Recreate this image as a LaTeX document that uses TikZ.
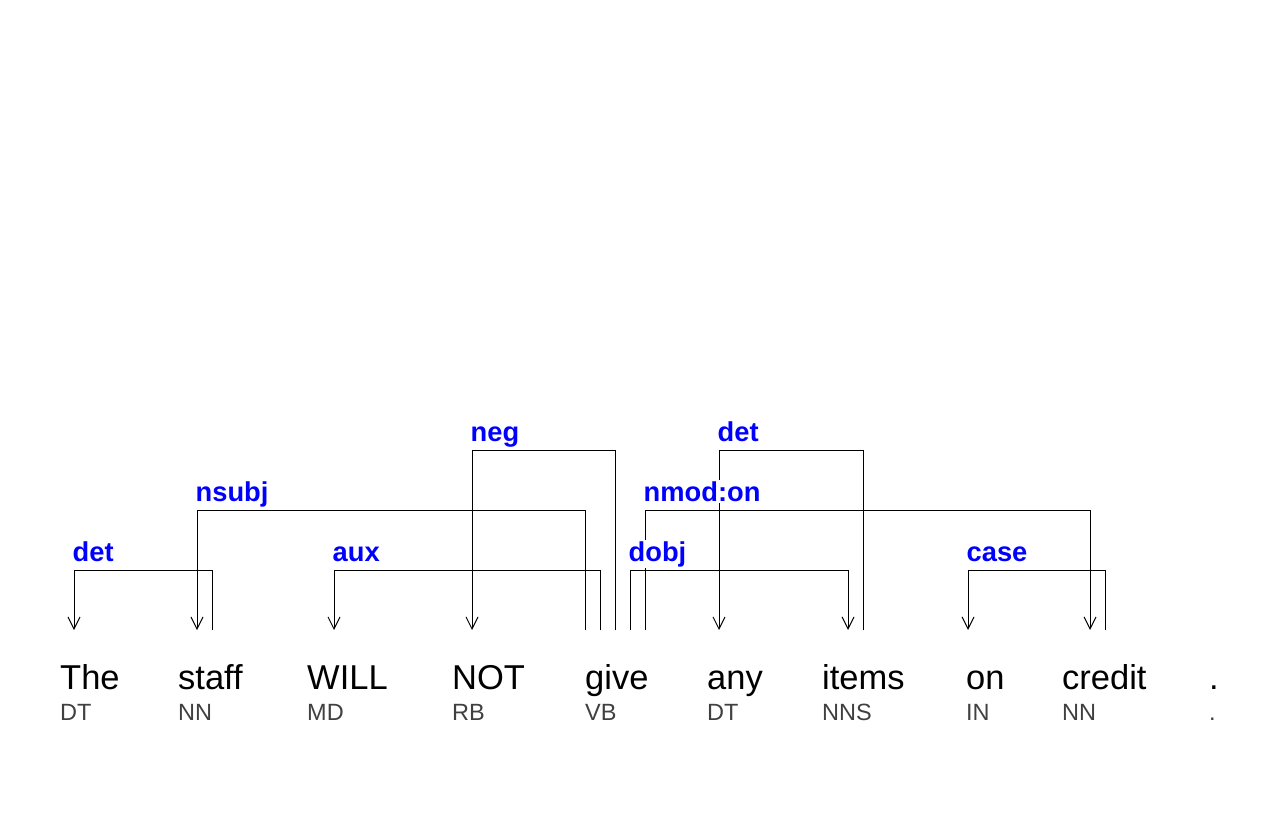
\documentclass[tikz,border=0pt]{standalone}
\usepackage{fontspec}
\setmainfont{Liberation Sans}
\usetikzlibrary{arrows.meta}
\definecolor{tagc}{HTML}{404040}
\definecolor{labc}{RGB}{0,0,255}
\begin{document}
\begin{tikzpicture}[x=1pt,y=-1pt,
  word/.style={anchor=base west,inner sep=0pt,font=\fontsize{34.5}{40}\selectfont},
  tag/.style={anchor=base west,inner sep=0pt,text=tagc,font=\fontsize{23.5}{26}\selectfont},
  lab/.style={anchor=base west,fill=white,inner sep=1.5pt,text=labc,font=\bfseries\fontsize{27.3}{32}\selectfont},
  dep/.style={line width=1pt,-{Straight Barb[length=12pt,width=12pt,line width=1pt]}}]
\useasboundingbox[fill=white] (0,0) rectangle (1272,840);
% words
\node[word] (w1) at (60,689) {The};
\node[word] (w2) at (178,689) {staff};
\node[word] (w3) at (307,689) {WILL};
\node[word] (w4) at (452,689) {NOT};
\node[word] (w5) at (585,689) {give};
\node[word] (w6) at (707,689) {any};
\node[word] (w7) at (822,689) {items};
\node[word] (w8) at (966,689) {on};
\node[word] (w9) at (1062,689) {credit};
\node[word] (w10) at (1209,689) {.};
% tags
\node[tag] (t1) at (60,720) {DT};
\node[tag] (t2) at (178,720) {NN};
\node[tag] (t3) at (307,720) {MD};
\node[tag] (t4) at (452,720) {RB};
\node[tag] (t5) at (585,720) {VB};
\node[tag] (t6) at (707,720) {DT};
\node[tag] (t7) at (822,720) {NNS};
\node[tag] (t8) at (966,720) {IN};
\node[tag] (t9) at (1062,720) {NN};
\node[tag] (t10) at (1209,720) {.};
% attachment points
\coordinate (p1) at (74,630);
\coordinate (p2a) at (197,630);
\coordinate (p2b) at (212,630);
\coordinate (p3) at (334,630);
\coordinate (p4) at (472,630);
\coordinate (g1) at (585,630);
\coordinate (g2) at (600,630);
\coordinate (g3) at (615,630);
\coordinate (g4) at (630,630);
\coordinate (g5) at (645,630);
\coordinate (p6) at (719,630);
\coordinate (p7a) at (848,630);
\coordinate (p7b) at (863,630);
\coordinate (p8) at (968,630);
\coordinate (p9a) at (1090,630);
\coordinate (p9b) at (1105,630);
% arcs
\draw[dep] (p2b) -- ++(0,-60) -| (p1);
\draw[dep] (g1) -- ++(0,-120) -| (p2a);
\draw[dep] (g2) -- ++(0,-60) -| (p3);
\draw[dep] (g3) -- ++(0,-180) -| (p4);
\draw[dep] (g4) -- ++(0,-60) -| (p7a);
\draw[dep] (g5) -- ++(0,-120) -| (p9a);
\draw[dep] (p7b) -- ++(0,-180) -| (p6);
\draw[dep] (p9b) -- ++(0,-60) -| (p8);
% labels
\node[lab] (l1) at (71,561) {det};
\node[lab] (l2) at (194,501) {nsubj};
\node[lab] (l3) at (331,561) {aux};
\node[lab] (l4) at (469,441) {neg};
\node[lab] (l6) at (642,501) {nmod:on};
\node[lab] (l5) at (627,561) {dobj};
\node[lab] (l7) at (716,441) {det};
\node[lab] (l8) at (965,561) {case};
\end{tikzpicture}
\end{document}
